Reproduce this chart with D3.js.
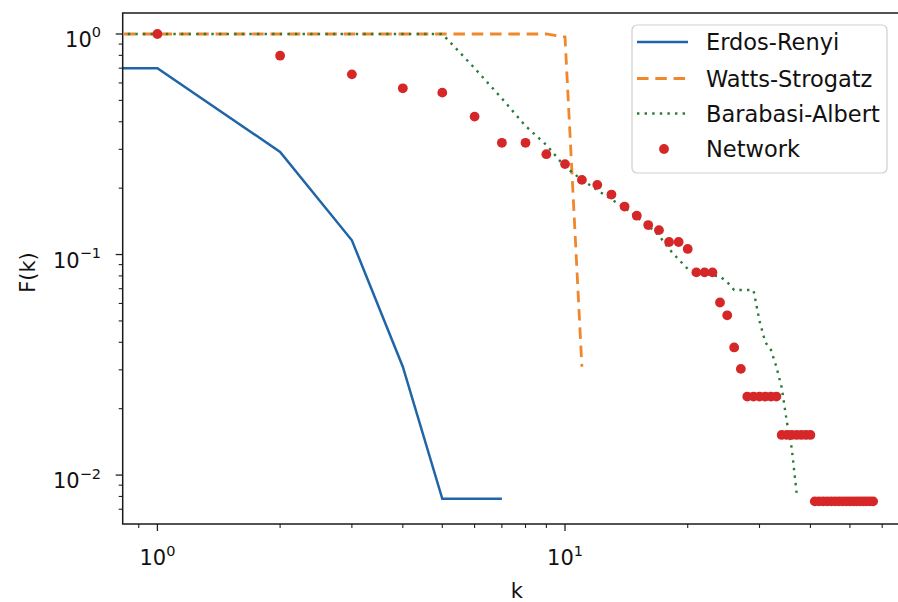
<!DOCTYPE html>
<html>
<head>
<meta charset="utf-8">
<script src="https://cdn.jsdelivr.net/npm/d3@7"></script>
<style>
  body { margin: 0; background: #fff; }
  text { font-family: "DejaVu Sans", sans-serif; fill: #111; }
</style>
</head>
<body>
<div id="chart"></div>
<script>
// degree values (k = 0 falls off the left of the log axis, as in matplotlib)
var erK = [0, 1, 2, 3, 4, 5, 6, 7];
var erF = [0.70, 0.70, 0.292, 0.116, 0.031, 0.0078, 0.0078, 0.0078];

var wsK = [0, 1, 2, 3, 4, 5, 6, 7, 8, 9, 10, 11];
var wsF = [1, 1, 1, 1, 1, 1, 1, 1, 1, 1, 0.97, 0.031];

var baK = [0, 1, 2, 3, 4, 5, 6, 7, 8, 9, 10, 11, 12, 13, 14, 15, 16, 17, 18,
           19, 20, 21, 22, 23, 24, 25, 26, 27, 28, 29, 30, 31, 32, 33, 34, 35, 36, 37];
var baF = [1, 1, 1, 1, 1, 1, 0.70, 0.51, 0.383, 0.314, 0.25, 0.218, 0.196, 0.178,
           0.163, 0.148, 0.135, 0.122, 0.106, 0.095, 0.086, 0.0836, 0.082, 0.0805,
           0.0795, 0.075, 0.069, 0.069, 0.069, 0.069, 0.050, 0.040, 0.037, 0.031,
           0.025, 0.0175, 0.0132, 0.0083];

var netK = [1, 2, 3, 4, 5, 6, 7, 8, 9, 10, 11, 12, 13, 14, 15, 16, 17, 18, 19, 20,
            21, 22, 23, 24, 25, 26, 27,
            28, 29, 30, 31, 32, 33,
            34, 35, 36, 37, 38, 39, 40,
            41, 42, 43, 44, 45, 46, 47, 48, 49, 50, 51, 52, 53, 54, 55, 56, 57];
var netF = [1.0, 0.797, 0.656, 0.567, 0.542, 0.422, 0.321, 0.321, 0.285, 0.257,
            0.218, 0.207, 0.187, 0.165, 0.150, 0.136, 0.129, 0.114, 0.114, 0.106,
            0.083, 0.083, 0.083, 0.0606, 0.053, 0.0379, 0.0303,
            0.0227, 0.0227, 0.0227, 0.0227, 0.0227, 0.0227,
            0.0152, 0.0152, 0.0152, 0.0152, 0.0152, 0.0152, 0.0152,
            0.0076, 0.0076, 0.0076, 0.0076, 0.0076, 0.0076, 0.0076, 0.0076, 0.0076,
            0.0076, 0.0076, 0.0076, 0.0076, 0.0076, 0.0076, 0.0076, 0.0076];

var xMajor = [1, 10];
var yMajor = [1, 0.1, 0.01];
var xExp = ["0", "1"];
var yExp = ["0", "\u22121", "\u22122"];

var seriesNames = ["Erdos-Renyi", "Watts-Strogatz", "Barabasi-Albert", "Network"];
var colors = ["#1f65a8", "#f0872a", "#2a7a3a", "#d62728"];

var width = 898, height = 602;
var mLeft = 122.7, mRight = 911, mTop = 13, mBottom = 524;

var svg = d3.select("#chart").append("svg")
    .attr("width", width)
    .attr("height", height);

var xScale = d3.scaleLog().domain([0.822, 70.6]).range([mLeft, mRight]);
var yScale = d3.scaleLog().domain([0.006, 1.245]).range([mBottom, mTop]);

svg.append("clipPath").attr("id", "clip")
  .append("rect")
    .attr("x", mLeft).attr("y", mTop)
    .attr("width", mRight - mLeft).attr("height", mBottom - mTop);

function kx(k) { return xScale(k > 0 ? k : 1e-3); }

function series(ks, fs) {
  return ks.map(function(k, i) { return [kx(k), yScale(fs[i])]; });
}

var line = d3.line();
var plot = svg.append("g").attr("clip-path", "url(#clip)");

plot.append("path")
    .attr("d", line(series(erK, erF)))
    .style("fill", "none").style("stroke", colors[0]).style("stroke-width", 2.5);

plot.append("path")
    .attr("d", line(series(wsK, wsF)))
    .style("fill", "none").style("stroke", colors[1]).style("stroke-width", 2.8)
    .style("stroke-dasharray", "11.5,6.8");

plot.append("path")
    .attr("d", line(series(baK, baF)))
    .style("fill", "none").style("stroke", colors[2]).style("stroke-width", 2.4)
    .style("stroke-dasharray", "2.4,5.2");

plot.selectAll(".net")
    .data(netK)
   .enter()
    .append("circle")
    .attr("class", "net")
    .attr("cx", function(d) { return xScale(d); })
    .attr("cy", function(d, i) { return yScale(netF[i]); })
    .attr("r", 4.9)
    .style("fill", colors[3]);

// minor ticks
var xMinor = [];
[0.1, 1, 10].forEach(function(dec) {
  for (var m = 2; m <= 9; m++) {
    var v = m * dec;
    if (v > 0.822 && v < 70.6) xMinor.push(v);
  }
});
var yMinor = [];
[0.001, 0.01, 0.1].forEach(function(dec) {
  for (var m = 2; m <= 9; m++) {
    var v = m * dec;
    if (v > 0.0061 && v < 1.245) yMinor.push(v);
  }
});

var axes = svg.append("g");

axes.selectAll(".xminor").data(xMinor).enter().append("line")
    .attr("x1", function(d) { return xScale(d); }).attr("x2", function(d) { return xScale(d); })
    .attr("y1", mBottom).attr("y2", mBottom + 4)
    .style("stroke", "#222").style("stroke-width", 1.1);
axes.selectAll(".xmajor").data(xMajor).enter().append("line")
    .attr("x1", function(d) { return xScale(d); }).attr("x2", function(d) { return xScale(d); })
    .attr("y1", mBottom).attr("y2", mBottom + 7)
    .style("stroke", "#222").style("stroke-width", 1.3);
axes.selectAll(".yminor").data(yMinor).enter().append("line")
    .attr("y1", function(d) { return yScale(d); }).attr("y2", function(d) { return yScale(d); })
    .attr("x1", mLeft).attr("x2", mLeft - 4)
    .style("stroke", "#222").style("stroke-width", 1.1);
axes.selectAll(".ymajor").data(yMajor).enter().append("line")
    .attr("y1", function(d) { return yScale(d); }).attr("y2", function(d) { return yScale(d); })
    .attr("x1", mLeft).attr("x2", mLeft - 7)
    .style("stroke", "#222").style("stroke-width", 1.3);

// spines
axes.append("rect")
    .attr("x", mLeft).attr("y", mTop)
    .attr("width", mRight - mLeft).attr("height", mBottom - mTop)
    .style("fill", "none").style("stroke", "#1a1a1a").style("stroke-width", 1.5);

// tick labels
var xt = axes.selectAll(".xtl").data(xMajor).enter().append("text")
    .attr("x", function(d) { return xScale(d); })
    .attr("y", 565)
    .attr("text-anchor", "middle")
    .style("font-size", "21px");
xt.append("tspan").text("10");
xt.append("tspan").attr("dy", -9.5).style("font-size", "14.5px")
    .text(function(d, i) { return xExp[i]; });

var yt = axes.selectAll(".ytl").data(yMajor).enter().append("text")
    .attr("x", 101)
    .attr("y", function(d) { return yScale(d) + 13; })
    .attr("text-anchor", "end")
    .style("font-size", "21px");
yt.append("tspan").text("10");
yt.append("tspan").attr("dy", -9.5).style("font-size", "14.5px")
    .text(function(d, i) { return yExp[i]; });

// axis labels
svg.append("text")
    .attr("x", (mLeft + mRight) / 2)
    .attr("y", 598)
    .attr("text-anchor", "middle")
    .style("font-size", "21px")
    .text("k");

svg.append("text")
    .attr("transform", "translate(35," + ((mTop + mBottom) / 2 + 4) + ") rotate(-90)")
    .attr("text-anchor", "middle")
    .style("font-size", "21px")
    .text("F(k)");

// legend
var legend = svg.append("g");
legend.append("rect")
    .attr("x", 632).attr("y", 25)
    .attr("width", 255).attr("height", 148)
    .attr("rx", 5)
    .style("fill", "#fff").style("fill-opacity", 0.85)
    .style("stroke", "#cfcfcf").style("stroke-width", 1.2);

var rowY = [42, 78.5, 113.5, 149];
var styles = [
  { dash: null, w: 2.5 },
  { dash: "11.5,6.8", w: 2.8 },
  { dash: "2.4,5.2", w: 2.4 }
];
styles.forEach(function(s, i) {
  var l = legend.append("line")
      .attr("x1", 637).attr("x2", 688)
      .attr("y1", rowY[i]).attr("y2", rowY[i])
      .style("stroke", colors[i]).style("stroke-width", s.w);
  if (s.dash) l.style("stroke-dasharray", s.dash);
});
legend.append("circle")
    .attr("cx", 664).attr("cy", rowY[3]).attr("r", 4.9)
    .style("fill", colors[3]);

legend.selectAll(".ltext").data(seriesNames).enter().append("text")
    .attr("x", 706)
    .attr("y", function(d, i) { return rowY[i]; })
    .attr("dy", "0.36em")
    .style("font-size", "22.5px")
    .text(function(d) { return d; });
</script>
</body>
</html>
